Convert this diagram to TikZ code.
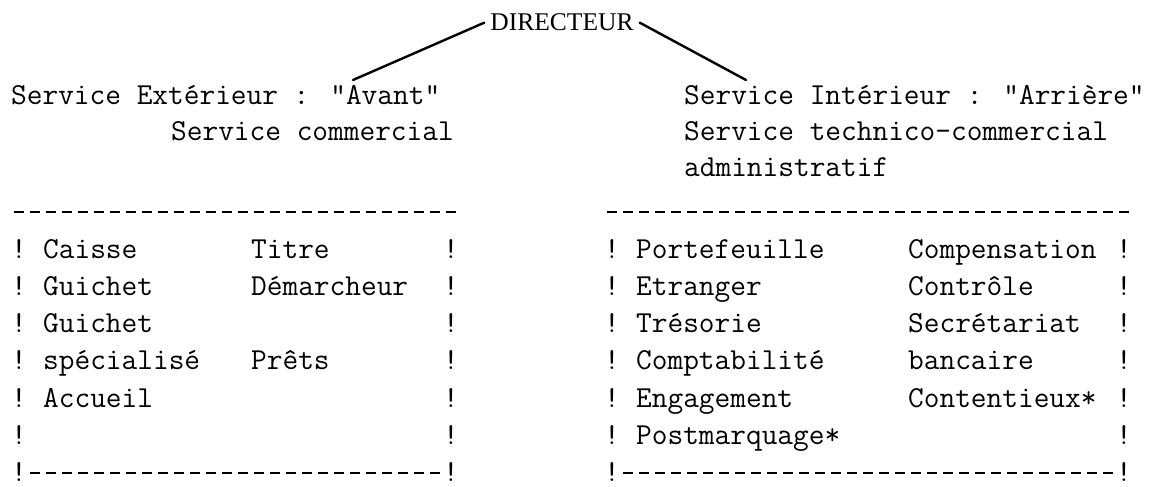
\documentclass[tikz,border=0pt]{standalone}
\usepackage{fontspec}
\newfontfamily\titlefont{Liberation Serif}
\begin{document}
\begin{tikzpicture}[x=1pt,y=1pt,
  tt/.style={font=\ttfamily\fontsize{30.48}{36}\selectfont\addfontfeatures{FakeBold=0.6}, inner sep=0pt, anchor=base west},
  bang/.style={tt},
  title/.style={font=\titlefont\fontsize{25.5}{30}\selectfont, inner sep=6pt, anchor=base},
  sep/.style={line width=2.2pt, dash pattern=on 10pt off 6pt},
  conn/.style={line width=2.4pt, line cap=round}]
\useasboundingbox (0,0) rectangle (1152,-487);
\def\xL{11}
\def\xR{604}
% title
\node[title] (dir) at (562,-31) {DIRECTEUR};
% headers
\node[tt] (l1) at (\xL,-104) {Service Extérieur : "Avant"};
\node[tt] (l2) at ({\xL+10*16},-140) {Service commercial};
\node[tt] (r1) at ({\xR+5*16},-104) {Service Intérieur : "Arrière"};
\node[tt] (r2) at ({\xR+5*16},-140) {Service technico-commercial};
\node[tt] (r3) at ({\xR+5*16},-176) {administratif};
% connectors
\coordinate (lend) at (353,-80);
\coordinate (rend) at (746,-80);
\draw[conn] (dir.west) -- (lend);
\draw[conn] (dir.east) -- (rend);
% top separators
\draw[sep] ({\xL+3},-212) -- ({\xL+28*16},-212);
\draw[sep] ({\xR+3},-212) -- ({\xR+33*16},-212);
% box side marks
\foreach \i/\y in {1/258,2/295,3/332,4/369,5/407,6/444,7/481}{
  \node[bang] (LA\i) at (\xL,-\y) {!};
  \node[bang] (LB\i) at ({\xL+27*16},-\y) {!};
  \node[bang] (RA\i) at (\xR,-\y) {!};
  \node[bang] (RB\i) at ({\xR+32*16},-\y) {!};
}
% left box
\node[tt] (la1) at ({\xL+2*16},-258) {Caisse};
\node[tt] (lb1) at ({\xL+15*16},-258) {Titre};
\node[tt] (la2) at ({\xL+2*16},-295) {Guichet};
\node[tt] (lb2) at ({\xL+15*16},-295) {Démarcheur};
\node[tt] (la3) at ({\xL+2*16},-332) {Guichet};
\node[tt] (la4) at ({\xL+2*16},-369) {spécialisé};
\node[tt] (lb4) at ({\xL+15*16},-369) {Prêts};
\node[tt] (la5) at ({\xL+2*16},-407) {Accueil};
\draw[sep] ({\xL+16+3},-473) -- ({\xL+27*16},-473);
% right box
\node[tt] (ra1) at ({\xR+2*16},-258) {Portefeuille};
\node[tt] (rb1) at ({\xR+19*16},-258) {Compensation};
\node[tt] (ra2) at ({\xR+2*16},-295) {Etranger};
\node[tt] (rb2) at ({\xR+19*16},-295) {Contrôle};
\node[tt] (ra3) at ({\xR+2*16},-332) {Trésorie};
\node[tt] (rb3) at ({\xR+19*16},-332) {Secrétariat};
\node[tt] (ra4) at ({\xR+2*16},-369) {Comptabilité};
\node[tt] (rb4) at ({\xR+19*16},-369) {bancaire};
\node[tt] (ra5) at ({\xR+2*16},-407) {Engagement};
\node[tt] (rb5) at ({\xR+19*16},-407) {Contentieux*};
\node[tt] (ra6) at ({\xR+2*16},-444) {Postmarquage*};
\draw[sep] ({\xR+16+3},-473) -- ({\xR+32*16},-473);
\end{tikzpicture}
\end{document}
